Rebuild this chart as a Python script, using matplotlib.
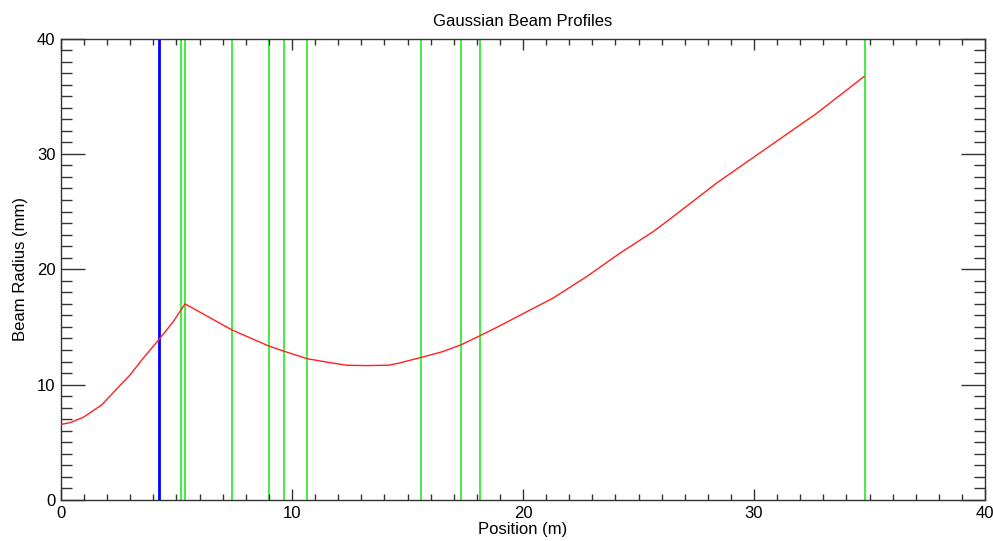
import matplotlib.pyplot as plt
from matplotlib.ticker import MultipleLocator

plt.rcParams['font.family'] = ['Liberation Sans', 'DejaVu Sans']

# beam radius along the line
pos = [0, 0.39, 0.97, 1.76, 2.12, 2.99, 3.56, 4.23, 4.86, 5.37, 7.39, 8.99, 9.65, 10.65,
       11.65, 12.37, 13.2, 14.17, 14.6, 15.58, 16.5, 17.32, 18.15, 19.0, 20.0, 21.3, 22.76,
       24.2, 25.64, 26.36, 28.4, 30.55, 32.7, 34.76]
radius = [6.55, 6.7, 7.17, 8.24, 9.0, 10.84, 12.29, 13.88, 15.46, 17.0, 14.75, 13.35, 12.9,
          12.25, 11.9, 11.68, 11.65, 11.68, 11.85, 12.35, 12.85, 13.45, 14.25, 15.1, 16.15,
          17.5, 19.37, 21.4, 23.27, 24.35, 27.5, 30.5, 33.5, 36.7]

# optics positions
optics = [5.21, 5.37, 7.39, 8.99, 9.65, 10.65, 15.58, 17.32, 18.15, 34.79]
source = 4.24

fig = plt.figure(figsize=(9.93, 5.41), dpi=100)
ax = fig.add_axes([0.0614, 0.0758, 0.9306, 0.853])

for p in optics:
    ax.axvline(p, color='#33ee33', lw=1.3, zorder=1)
ax.axvline(source, color='#0000ff', lw=2.0, zorder=2)
ax.plot(pos, radius, color='#ff2020', lw=1.0, zorder=3)

ax.set_xlim(0, 40)
ax.set_ylim(0, 40)
ax.xaxis.set_major_locator(MultipleLocator(10))
ax.xaxis.set_minor_locator(MultipleLocator(1))
ax.yaxis.set_major_locator(MultipleLocator(10))
ax.yaxis.set_minor_locator(MultipleLocator(1))
ax.tick_params(axis='both', which='both', direction='in', top=True, right=True,
               labelsize=12, width=1, color='#333333', pad=4)
ax.tick_params(axis='x', which='major', length=8)
ax.tick_params(axis='x', which='minor', length=4)
ax.tick_params(axis='y', which='major', length=17)
ax.tick_params(axis='y', which='minor', length=8)
for s in ax.spines.values():
    s.set_linewidth(1.0)
    s.set_color('#333333')

ax.set_title('Gaussian Beam Profiles', fontsize=12, pad=9)
ax.set_xlabel('Position (m)', fontsize=12, labelpad=1)
ax.set_ylabel('Beam Radius (mm)', fontsize=12, labelpad=6)

fig.savefig('out.png', dpi=100)
